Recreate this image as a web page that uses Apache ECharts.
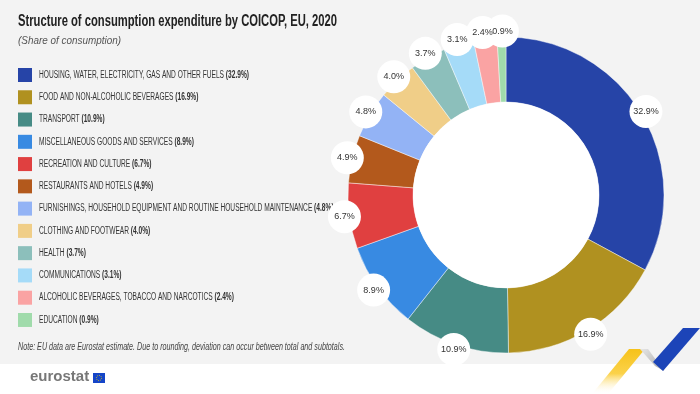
<!DOCTYPE html>
<html>
<head>
<meta charset="utf-8">
<script src="https://cdn.jsdelivr.net/npm/echarts@6/dist/echarts.min.js"></script>
<style>
html,body{margin:0;padding:0;background:#ffffff;}
#chart{width:700px;height:394px;}
</style>
</head>
<body>
<div id="chart"></div>
<script>
const categories = [
  'HOUSING, WATER, ELECTRICITY, GAS AND OTHER FUELS',
  'FOOD AND NON-ALCOHOLIC BEVERAGES',
  'TRANSPORT',
  'MISCELLANEOUS GOODS AND SERVICES',
  'RECREATION AND CULTURE',
  'RESTAURANTS AND HOTELS',
  'FURNISHINGS, HOUSEHOLD EQUIPMENT AND ROUTINE HOUSEHOLD MAINTENANCE',
  'CLOTHING AND FOOTWEAR',
  'HEALTH',
  'COMMUNICATIONS',
  'ALCOHOLIC BEVERAGES, TOBACCO AND NARCOTICS',
  'EDUCATION'
];
const shares = [32.9, 16.9, 10.9, 8.9, 6.7, 4.9, 4.8, 4.0, 3.7, 3.1, 2.4, 0.9];
const colors = ['#2644a7','#b09120','#468b85','#388ae2','#e04040','#b3591c','#93b3f5','#f0ce88','#8cbfbb','#a5dbf8','#faa3a3','#a0dbab'];

const TITLE = 'Structure of consumption expenditure by COICOP, EU, 2020';
const SUBTITLE = '(Share of consumption)';
const NOTE = 'Note: EU data are Eurostat estimate. Due to rounding, deviation can occur between total and subtotals.';

const CX = 506, CY = 195, R_IN = 93, R_OUT = 158, R_LAB = 160;
const FAM = "'Liberation Sans', Arial, sans-serif";
// small horizontal nudges for the two crowded labels at the top
const labelNudge = {10: [-2, -1], 11: [1, -1]};

// measure helper to emulate the condensed typeface by horizontal scaling
const mctx = document.createElement('canvas').getContext('2d');
function textW(txt, font){ mctx.font = font; return mctx.measureText(txt).width; }

const titleFont = 'bold 16px ' + FAM;
const subFont = 'italic 10.5px ' + FAM;
const noteFont = 'italic 10px ' + FAM;
const legFont = '10px ' + FAM;
const legBold = 'bold 10px ' + FAM;

const titleScale = 319 / textW(TITLE, titleFont);
const subScale = 103 / textW(SUBTITLE, subFont);
const noteScale = 327 / textW(NOTE, noteFont);
const pct = v => '(' + v.toFixed(1) + '%)';
const legScale = 210 / (textW(categories[0] + ' ', legFont) + textW(pct(shares[0]), legBold));

const legendGraphics = [];
categories.forEach((c, i) => {
  const cy = 75 + i * 22.27;
  legendGraphics.push({type:'rect', silent:true, shape:{x:18, y:cy-7, width:14, height:14}, style:{fill:colors[i]}});
  legendGraphics.push({type:'text', silent:true, x:39, y:cy, scaleX:legScale, scaleY:1,
    style:{text:'{n|' + c + ' }{p|' + pct(shares[i]) + '}', x:0, y:0, verticalAlign:'middle', align:'left',
      rich:{n:{font:legFont, fill:'#333'}, p:{font:legBold, fill:'#333'}}}});
});

const chart = echarts.init(document.getElementById('chart'), null, {renderer:'canvas'});
const pieData = categories.map((c,i)=>({name:c, value:shares[i], itemStyle:{color:colors[i]}}));
const labelData = categories.map((c,i)=>{
  const d = {name:c, value:shares[i]};
  if (labelNudge[i]) d.label = {offset: labelNudge[i]};
  return d;
});

function labelSeries(name, z, labelStyle){
  return {
    type:'pie',
    name:name,
    center:[CX, CY],
    radius:[R_LAB-3, R_LAB+3],
    startAngle: 90,
    clockwise: true,
    silent: true,
    avoidLabelOverlap: false,
    z: z,
    itemStyle:{color:'rgba(0,0,0,0)', borderWidth:0},
    labelLine:{show:false},
    labelLayout:{hideOverlap:false},
    label: Object.assign({show:true, position:'inside', rotate:0, align:'center', verticalAlign:'middle'}, labelStyle),
    data: labelData
  };
}

chart.setOption({
  backgroundColor: '#ffffff',
  animation: false,
  graphic: [
    {type:'rect', z:-10, silent:true, shape:{x:0,y:0,width:700,height:364}, style:{fill:'#f3f3f3'}},
    {type:'circle', z:10, silent:true, shape:{cx:CX, cy:CY, r:R_IN}, style:{fill:'#ffffff'}},
    {type:'text', silent:true, x:18, y:14, scaleX:titleScale, style:{text:TITLE, x:0, y:0, font:titleFont, fill:'#222', verticalAlign:'top'}},
    {type:'text', silent:true, x:18, y:35.5, scaleX:subScale, style:{text:SUBTITLE, x:0, y:0, font:subFont, fill:'#555', verticalAlign:'top'}},
    {type:'text', silent:true, x:18, y:342.5, scaleX:noteScale, style:{text:NOTE, x:0, y:0, font:noteFont, fill:'#444', verticalAlign:'top'}},
    {type:'text', silent:true, x:30, y:369, style:{text:'eurostat', x:0, y:0, font:"bold 15px " + FAM, fill:'#777', verticalAlign:'top'}},
    {type:'rect', silent:true, shape:{x:93,y:373,width:12,height:10}, style:{fill:'#1545c8'}},
    {type:'circle', silent:true, shape:{cx:99,cy:378,r:2.6}, style:{fill:'none', stroke:'#f5d800', lineWidth:0.8, lineDash:[1,1]}},
    {type:'polygon', silent:true, shape:{points:[[629,349],[645,349],[608,394],[592,394]]},
      style:{fill:{type:'linear',x:0,y:0,x2:0,y2:1,colorStops:[{offset:0,color:'#f6c21a'},{offset:0.55,color:'#fbd24a'},{offset:1,color:'rgba(255,255,255,0)'}]}}},
    {type:'polygon', silent:true, shape:{points:[[640,349],[648,349],[664,371],[655,366]]},
      style:{fill:{type:'linear',x:0,y:0,x2:1,y2:1,colorStops:[{offset:0,color:'#e6e6e6'},{offset:1,color:'#a9a9a9'}]}}},
    {type:'polygon', silent:true, shape:{points:[[683,328],[700,328],[663,371],[653,362]]},
      style:{fill:'#1c44b8'}}
  ].concat(legendGraphics),
  series: [
    {
      type:'pie',
      name:'share',
      center:[CX, CY],
      radius:[R_IN, R_OUT],
      startAngle: 90,
      clockwise: true,
      silent: true,
      label:{show:false},
      labelLine:{show:false},
      itemStyle:{borderColor:'rgba(255,255,255,0.55)', borderWidth:0.8},
      data: pieData
    },
    labelSeries('labelCircles', 20, {
      formatter: function(){ return ' '; },
      backgroundColor:'#ffffff',
      width: 33, height: 33, lineHeight: 33,
      borderRadius: 16.5,
      fontSize: 9
    }),
    labelSeries('labelTexts', 30, {
      formatter: function(p){ return p.value.toFixed(1) + '%'; },
      fontFamily: FAM,
      fontSize: 9,
      color:'#333'
    })
  ]
});
</script>
</body>
</html>
